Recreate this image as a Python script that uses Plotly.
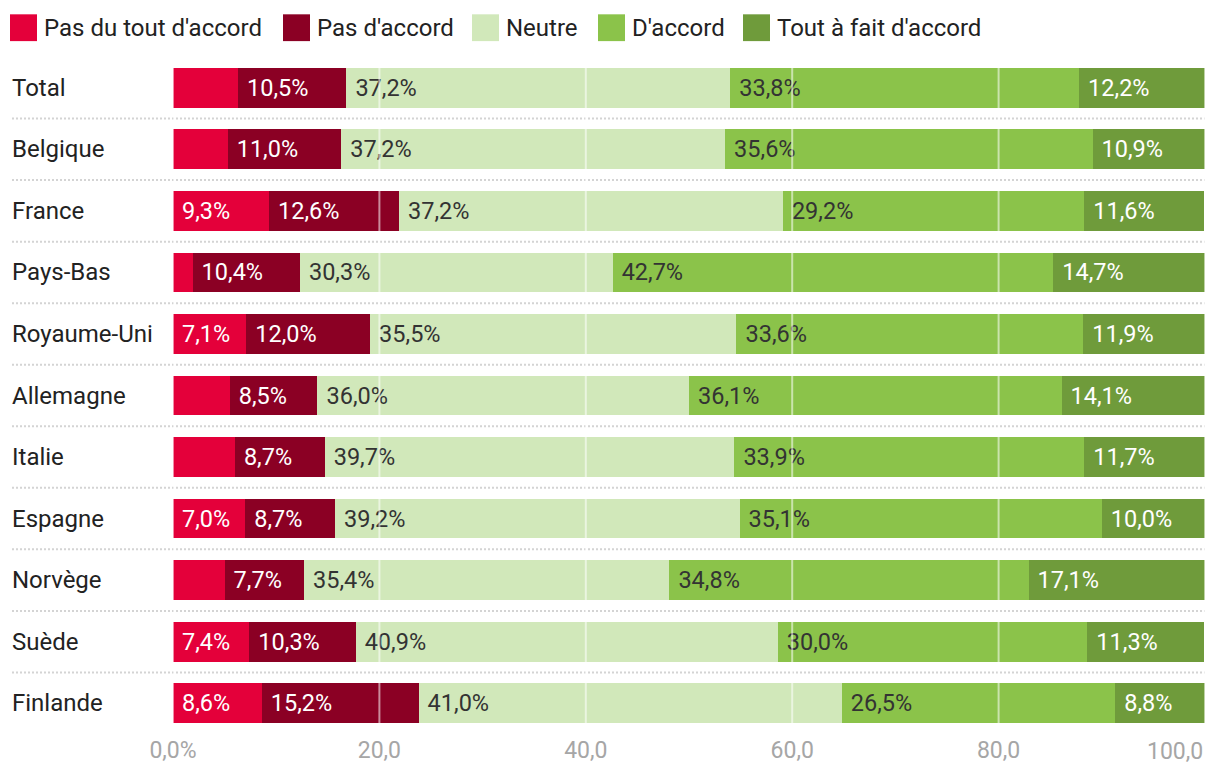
import plotly.graph_objects as go

categories = ["Total", "Belgique", "France", "Pays-Bas", "Royaume-Uni", "Allemagne",
              "Italie", "Espagne", "Norvège", "Suède", "Finlande"]
series_names = ["Pas du tout d'accord", "Pas d'accord", "Neutre", "D'accord", "Tout à fait d'accord"]
pas_du_tout = [6.3, 5.3, 9.3, 1.9, 7.1, 5.5, 6.0, 7.0, 5.0, 7.4, 8.6]
pas_accord = [10.5, 11.0, 12.6, 10.4, 12.0, 8.5, 8.7, 8.7, 7.7, 10.3, 15.2]
neutre = [37.2, 37.2, 37.2, 30.3, 35.5, 36.0, 39.7, 39.2, 35.4, 40.9, 41.0]
accord = [33.8, 35.6, 29.2, 42.7, 33.6, 36.1, 33.9, 35.1, 34.8, 30.0, 26.5]
tout_accord = [12.2, 10.9, 11.6, 14.7, 11.9, 14.1, 11.7, 10.0, 17.1, 11.3, 8.8]
tick_vals = [0, 20, 40, 60, 80, 100]
tick_text = ["0,0%", "20,0", "40,0", "60,0", "80,0", "100,0"]

series_values = [pas_du_tout, pas_accord, neutre, accord, tout_accord]
colors = ["#E4003A", "#8B0024", "#D1E8BA", "#8BC34A", "#6F9B3B"]
text_colors = ["#FFFFFF", "#FFFFFF", "#333333", "#333333", "#FFFFFF"]

FONT = "Roboto"
W, H = 1220, 776
ML, MR, MT, MB = 173, 15, 57, 37
PW = W - ML - MR
PH = H - MT - MB

def fmt(v):
    return "\u2005" + f"{v:.1f}".replace(".", ",") + "%" if v >= 6.5 else ""

fig = go.Figure()
for name, vals, col, tcol in zip(series_names, series_values, colors, text_colors):
    fig.add_trace(go.Bar(
        y=categories, x=vals, orientation="h", name=name,
        marker=dict(color=col, line=dict(width=0)),
        text=[fmt(v) for v in vals], textposition="inside",
        insidetextanchor="start", textangle=0,
        insidetextfont=dict(family=FONT, size=23.5, color=tcol),
        showlegend=False, hoverinfo="x+y+name",
    ))

shapes = []
# dotted row separators
for i in range(len(categories) - 1):
    shapes.append(dict(type="line", xref="paper", yref="y",
                       x0=(12 - ML) / PW, x1=1, y0=i + 0.5, y1=i + 0.5,
                       line=dict(color="#D4D4D4", width=2, dash="2px,2px"), layer="below"))
# white gridlines above bars
for tv in tick_vals:
    shapes.append(dict(type="line", xref="x", yref="paper", x0=tv, x1=tv, y0=0, y1=1,
                       line=dict(color="rgba(255,255,255,0.55)", width=2), layer="above"))

annotations = []
for c in categories:
    annotations.append(dict(text=c, xref="paper", yref="y", x=(10 - ML) / PW, y=c,
                            xanchor="left", yanchor="middle", showarrow=False,
                            font=dict(family=FONT, size=24, color="#222222")))

# last tick label anchored at the right edge so it stays inside the figure
annotations.append(dict(text=tick_text[-1], xref="x", yref="paper", x=tick_vals[-1], y=0,
                        xanchor="right", yanchor="top", yshift=-2, showarrow=False,
                        font=dict(family=FONT, size=23, color="#A6A6A6")))

# manual legend
legend_left_px = [10, 283, 472, 598, 743]
sq = 27
def px_to_paper_x(px):
    return (px - ML) / PW
def px_to_paper_y(py):
    return (H - MB - py) / PH
for name, col, lx in zip(series_names, colors, legend_left_px):
    shapes.append(dict(type="rect", xref="paper", yref="paper",
                       x0=px_to_paper_x(lx), x1=px_to_paper_x(lx + sq),
                       y0=px_to_paper_y(14 + sq), y1=px_to_paper_y(14),
                       fillcolor=col, line=dict(width=0)))
    annotations.append(dict(text=name, xref="paper", yref="paper",
                            x=px_to_paper_x(lx + sq + 5), y=px_to_paper_y(27.5),
                            xanchor="left", yanchor="middle", showarrow=False,
                            font=dict(family=FONT, size=24, color="#222222")))

fig.update_layout(
    width=W, height=H, barmode="stack", bargap=0.355,
    margin=dict(l=ML, r=MR, t=MT, b=MB),
    paper_bgcolor="white", plot_bgcolor="white",
    font=dict(family=FONT),
    shapes=shapes, annotations=annotations, showlegend=False,
    xaxis=dict(range=[0, 100], tickvals=tick_vals[:-1], ticktext=tick_text[:-1],
               showgrid=False, zeroline=False, showline=False, ticks="",
               tickfont=dict(family=FONT, size=23, color="#A6A6A6")),
    yaxis=dict(autorange="reversed", showticklabels=False, showgrid=False,
               zeroline=False, showline=False, ticks=""),
)

fig.write_html("out.html", config={"displayModeBar": False},
               post_script="document.body.style.margin='0';document.body.style.overflow='hidden';")
